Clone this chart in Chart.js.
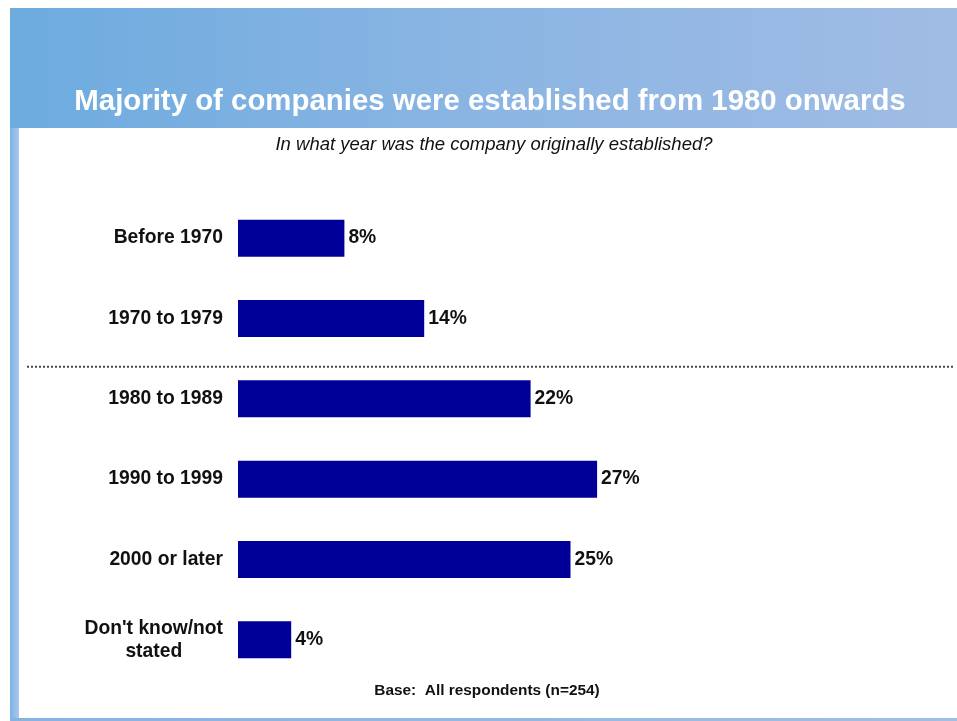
<!DOCTYPE html>
<html>
<head>
<meta charset="utf-8">
<script src="https://cdn.jsdelivr.net/npm/chart.js@4.4.1/dist/chart.umd.min.js"></script>
<style>
  html, body { margin: 0; padding: 0; background: #fff; }
  #wrap { width: 957px; height: 721px; }
</style>
</head>
<body>
<div id="wrap"><canvas id="yearChart" width="957" height="721"></canvas></div>
<script>
// categories and shares (%)
const categories = [
  ['Before 1970'],
  ['1970 to 1979'],
  ['1980 to 1989'],
  ['1990 to 1999'],
  ['2000 or later'],
  ["Don't know/not", 'stated']
];
const shares = [8, 14, 22, 27, 25, 4];

const titleText = 'Majority of companies were established from 1980 onwards';
const questionText = 'In what year was the company originally established?';
const baseText = 'Base:  All respondents (n=254)';

const FONT = '"Liberation Sans", Arial, sans-serif';
const barColor = '#000099';

// header band, side strip and texts
const slideFrame = {
  id: 'slideFrame',
  beforeDraw(chart) {
    const ctx = chart.ctx;
    const W = chart.width, H = chart.height;
    ctx.save();
    ctx.fillStyle = '#fff';
    ctx.fillRect(0, 0, W, H);

    let g = ctx.createLinearGradient(10, 0, W, 0);
    g.addColorStop(0, '#6dabdf');
    g.addColorStop(0.5, '#8bb5e3');
    g.addColorStop(1, '#a0bce4');
    ctx.fillStyle = g;
    ctx.fillRect(10, 8, W - 10, 120);

    // left strip
    g = ctx.createLinearGradient(10, 0, 19, 0);
    g.addColorStop(0, '#7fb0e2');
    g.addColorStop(1, '#a9c8ee');
    ctx.fillStyle = g;
    ctx.fillRect(10, 128, 9, H - 128);

    // bottom edge
    g = ctx.createLinearGradient(10, 0, W, 0);
    g.addColorStop(0, '#86b3e2');
    g.addColorStop(1, '#a2bde5');
    ctx.fillStyle = g;
    ctx.fillRect(10, 718, W - 10, 3);

    ctx.fillStyle = '#fff';
    ctx.textAlign = 'center';
    ctx.textBaseline = 'alphabetic';
    ctx.font = 'bold 29.4px ' + FONT;
    ctx.fillText(titleText, 490, 110);

    ctx.fillStyle = '#111';
    ctx.font = 'italic 18.5px ' + FONT;
    ctx.fillText(questionText, 494, 150);

    ctx.font = 'bold 15.4px ' + FONT;
    ctx.fillText(baseText, 487, 695);
    ctx.restore();
  },
  afterDatasetsDraw(chart) {
    const ctx = chart.ctx;
    const y = chart.scales.y;
    const meta = chart.getDatasetMeta(0);
    ctx.save();

    // dotted divider between pre-1980 and post-1980 groups
    const yDiv = (y.getPixelForValue(1) + y.getPixelForValue(2)) / 2 + 8;
    ctx.strokeStyle = '#444';
    ctx.lineWidth = 2;
    ctx.setLineDash([2, 2]);
    ctx.beginPath();
    ctx.moveTo(27, yDiv);
    ctx.lineTo(955, yDiv);
    ctx.stroke();
    ctx.setLineDash([]);

    // category labels
    ctx.fillStyle = '#111';
    ctx.font = 'bold 19.3px ' + FONT;
    ctx.textBaseline = 'middle';
    categories.forEach((lines, i) => {
      const cy = y.getPixelForValue(i);
      if (lines.length === 1) {
        ctx.textAlign = 'right';
        ctx.fillText(lines[0], 223, cy);
      } else {
        const wmax = Math.max(...lines.map(l => ctx.measureText(l).width));
        const cx = 223 - wmax / 2;
        const lh = 23;
        ctx.textAlign = 'center';
        lines.forEach((l, k) => {
          ctx.fillText(l, cx, cy + (k - (lines.length - 1) / 2) * lh);
        });
      }
    });

    // value labels
    ctx.textAlign = 'left';
    ctx.font = 'bold 19.3px ' + FONT;
    meta.data.forEach((bar, i) => {
      ctx.fillText(shares[i] + '%', bar.x + 4, bar.y);
    });
    ctx.restore();
  }
};

new Chart(document.getElementById('yearChart'), {
  type: 'bar',
  data: {
    labels: categories,
    datasets: [{
      data: shares,
      backgroundColor: barColor,
      borderWidth: 0,
      barPercentage: 0.46,
      categoryPercentage: 1.0
    }]
  },
  options: {
    indexAxis: 'y',
    responsive: false,
    animation: false,
    devicePixelRatio: 1,
    layout: { padding: { left: 238, right: 54, top: 198, bottom: 41 } },
    scales: {
      x: { display: false, min: 0, max: 50 },
      y: { display: false }
    },
    plugins: {
      legend: { display: false },
      tooltip: { enabled: false }
    }
  },
  plugins: [slideFrame]
});
</script>
</body>
</html>
